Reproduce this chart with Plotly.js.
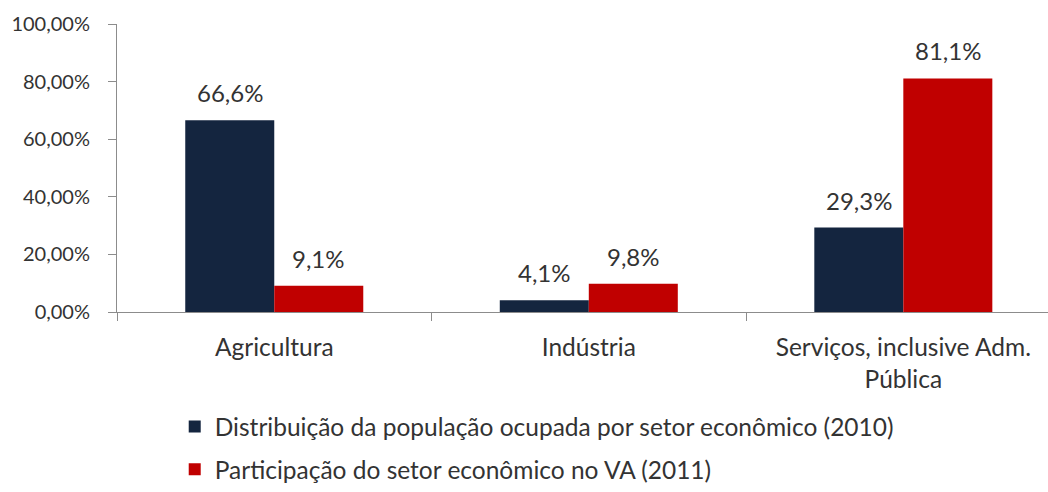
<!DOCTYPE html>
<html><head><meta charset="utf-8">
<script src="https://cdn.plot.ly/plotly-3.0.1.min.js"></script>
<style>html,body{margin:0;padding:0;background:#fff}#c{width:1048px;height:492px}</style>
</head><body><div id="c"></div>
<script>
const categories = ["Agricultura", "Indústria", "Serviços, inclusive Adm.<br>Pública"];
const seriesNames = ["Distribuição da população ocupada por setor econômico (2010)", "Participação do setor econômico no VA (2011)"];
const populacao = [66.6, 4.1, 29.3];
const participacao = [9.1, 9.8, 81.1];
const yTicks = [0, 20, 40, 60, 80, 100];
const yTickText = yTicks.map(v => v.toFixed(2).replace(".", ",") + "%");

const font = "Lato, 'Liberation Sans', sans-serif";
const txtColor = "#333333";
const axColor = "#8c8c8c";
const bargap = 0.434;
const half = (1 - bargap) / 4;

const mk = (name, vals, color, grp) => ({
  type: "bar", name: name, x: categories, y: vals,
  marker: {color: color}, legendgroup: grp, hoverinfo: "skip"
});

const data = [
  mk(seriesNames[0], populacao, "#14253f", "a"),
  mk(seriesNames[1], participacao, "#c00000", "b")
];

const fmt = v => v.toFixed(1).replace(".", ",") + "%";
const annotations = [];
[[populacao, -half], [participacao, half]].forEach(([vals, off]) => {
  vals.forEach((v, i) => annotations.push({
    x: i + off, y: v, xref: "x", yref: "y", text: fmt(v), showarrow: false,
    yanchor: "bottom", yshift: 11, font: {family: font, size: 24, color: txtColor}
  }));
});

const layout = {
  width: 1048, height: 492,
  margin: {l: 117, r: 0, t: 24, b: 180},
  barmode: "group", bargap: bargap, bargroupgap: 0,
  paper_bgcolor: "#fff", plot_bgcolor: "#fff",
  font: {family: font, size: 20, color: txtColor},
  annotations: annotations,
  xaxis: {
    range: [-0.5, 2.46], showgrid: false, showline: true, linecolor: axColor, linewidth: 1,
    ticks: "outside", tickson: "boundaries", ticklen: 8, tickcolor: axColor,
    tickfont: {family: font, size: 24.5, color: txtColor}, ticklabelstandoff: 14, zeroline: false
  },
  yaxis: {
    range: [0, 100], tickmode: "array", tickvals: yTicks, ticktext: yTickText,
    showgrid: false, showline: true, linecolor: axColor, linewidth: 1,
    ticks: "outside", ticklen: 8, tickcolor: axColor, zeroline: false,
    tickfont: {family: font, size: 20, color: txtColor}, ticklabelstandoff: 14
  },
  showlegend: true,
  legend: {
    orientation: "v", x: 0.062, xanchor: "left", y: -0.32, yanchor: "top",
    font: {family: font, size: 24.5, color: txtColor}, tracegroupgap: 8,
    itemwidth: 30, traceorder: "grouped", bgcolor: "rgba(0,0,0,0)"
  }
};

Plotly.newPlot("c", data, layout, {displayModeBar: false, staticPlot: true});
</script></body></html>
